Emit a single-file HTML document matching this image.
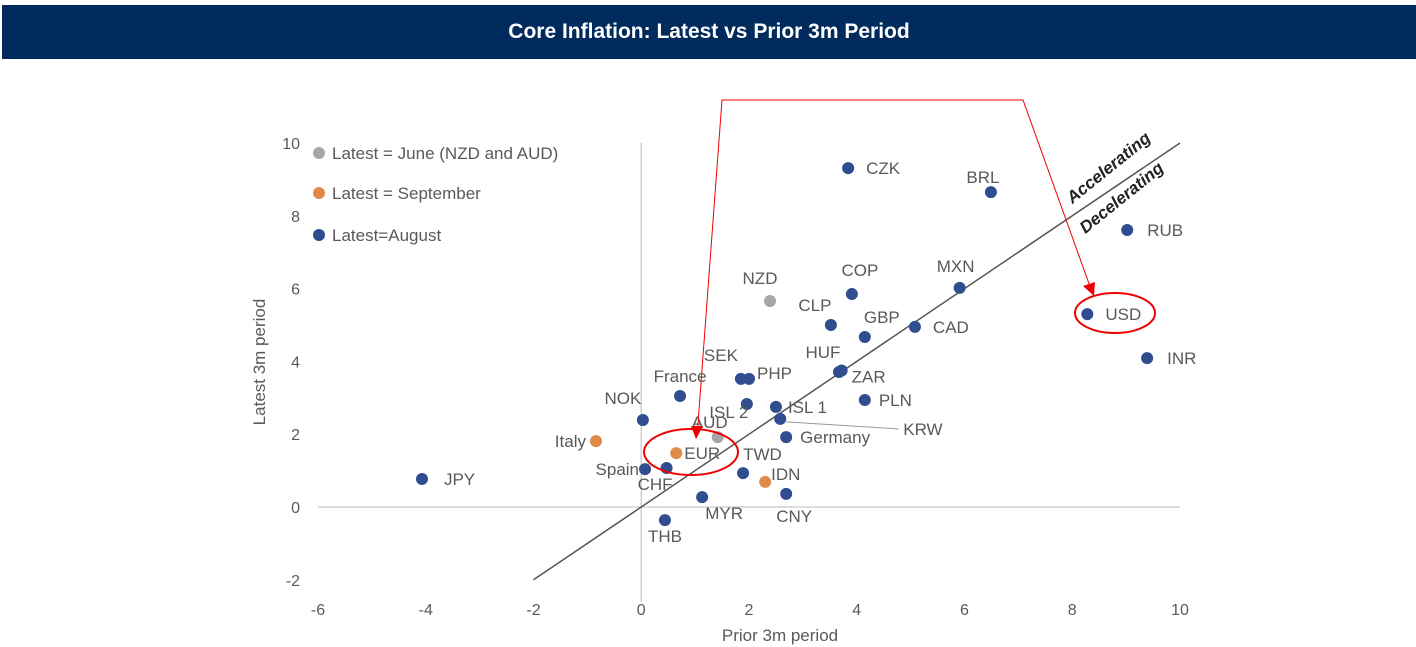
<!DOCTYPE html>
<html><head><meta charset="utf-8"><style>
body{margin:0;background:#fff;width:1416px;height:647px;overflow:hidden;font-family:"Liberation Sans",sans-serif}
#title{position:absolute;left:2px;top:5px;width:1414px;height:54px;background:#002b5c;color:#fff;font-weight:bold;font-size:21px;display:flex;align-items:center;justify-content:center}
svg{position:absolute;left:0;top:0}
text{font-family:"Liberation Sans","DejaVu Sans",sans-serif}
</style></head><body>
<div id="title">Core Inflation: Latest vs Prior 3m Period</div>
<svg id="chart" width="1416" height="647"></svg>
<script>
const names=["JPY","Italy","Spain","CHF","THB","MYR","EUR","AUD","NOK","France","SEK","PHP","ISL 2","ISL 1","KRW","Germany","TWD","IDN","CNY","NZD","CLP","COP","GBP","HUF","ZAR","PLN","CAD","MXN","CZK","BRL","RUB","USD","INR"];
const xVals=[-4.07,-0.84,0.07,0.47,0.44,1.13,0.65,1.42,0.03,0.72,1.85,2.0,1.96,2.5,2.58,2.69,1.89,2.3,2.69,2.39,3.52,3.91,4.15,3.67,3.72,4.15,5.08,5.91,3.84,6.49,9.02,8.28,9.39];
const yVals=[0.77,1.81,1.04,1.07,-0.36,0.27,1.48,1.92,2.39,3.05,3.52,3.52,2.83,2.75,2.42,1.92,0.93,0.69,0.36,5.66,5.0,5.85,4.67,3.71,3.75,2.94,4.95,6.02,9.31,8.65,7.61,5.30,4.09];
const groups=["b","o","b","b","b","b","o","g","b","b","b","b","b","b","b","b","b","o","b","g","b","b","b","b","b","b","b","b","b","b","b","b","b"];
const xTicks=[-6,-4,-2,0,2,4,6,8,10];
const yTicks=[-2,0,2,4,6,8,10];
const labOff={"JPY":[22,6,"start"],"Italy":[-10,6,"end"],"Spain":[-6,6,"end"],"CHF":[6,22,"end"],"THB":[0,22,"middle"],"MYR":[22,22,"middle"],"EUR":[8,6,"start"],"AUD":[-8,-9,"middle"],"NOK":[-20,-16,"middle"],"France":[0,-14,"middle"],"SEK":[-20,-18,"middle"],"PHP":[8,0,"start"],"ISL 2":[-18,14,"middle"],"ISL 1":[12,6,"start"],"KRW":[123,16,"start"],"Germany":[14,6,"start"],"TWD":[0,-13,"start"],"IDN":[6,-2,"start"],"CNY":[8,28,"middle"],"NZD":[-10,-17,"middle"],"CLP":[-16,-14,"middle"],"COP":[8,-18,"middle"],"GBP":[17,-14,"middle"],"HUF":[-16,-14,"middle"],"ZAR":[10,12,"start"],"PLN":[14,6,"start"],"CAD":[18,6,"start"],"MXN":[-4,-16,"middle"],"CZK":[18,6,"start"],"BRL":[-8,-9,"middle"],"RUB":[20,6,"start"],"USD":[18,6,"start"],"INR":[20,6,"start"]};
const col={b:"#2f4d8f",o:"#e08a4a",g:"#a6a6a6"};
const X=v=>641.25+v*53.875, Y=v=>507-v*36.4;
const svg=document.getElementById('chart');const NS="http://www.w3.org/2000/svg";
function mk(t,a,p){const e=document.createElementNS(NS,t);for(const k in a)e.setAttribute(k,a[k]);(p||svg).appendChild(e);return e;}
let e;
e=mk('line',{x1:X(0),y1:Y(10),x2:X(0),y2:Y(-2.6),stroke:"#d0d0d0","stroke-width":1.5});


e=mk('line',{x1:X(-6),y1:Y(0),x2:X(10),y2:Y(0),stroke:"#d0d0d0","stroke-width":1.5});


xTicks.forEach(t=>{e=mk('text',{x:X(t),y:615,"text-anchor":"middle","font-size":16,fill:"#595959"});e.textContent=t;

});
yTicks.forEach(t=>{e=mk('text',{x:300,y:Y(t)+6,"text-anchor":"end","font-size":16,fill:"#595959"});e.textContent=t;

});
e=mk('text',{x:780,y:641,"text-anchor":"middle","font-size":17,fill:"#595959"});e.textContent="Prior 3m period";


e=mk('text',{x:0,y:0,transform:"translate(265,362) rotate(-90)","text-anchor":"middle","font-size":17,fill:"#595959"});e.textContent="Latest 3m period";


e=mk('line',{x1:X(-2),y1:Y(-2),x2:X(10),y2:Y(10),stroke:"#555","stroke-width":1.5});


e=mk('text',{x:0,y:0,transform:"translate(1112,172) rotate(-39)","text-anchor":"middle","font-size":17,"font-weight":"bold","font-style":"italic",fill:"#222"});e.textContent="Accelerating";


e=mk('text',{x:0,y:0,transform:"translate(1125,202) rotate(-39)","text-anchor":"middle","font-size":17,"font-weight":"bold","font-style":"italic",fill:"#222"});e.textContent="Decelerating";


// KRW leader
const ki=names.indexOf("KRW");
e=mk('line',{x1:X(xVals[ki])+6,y1:Y(yVals[ki])+3,x2:X(xVals[ki])+118,y2:Y(yVals[ki])+10,stroke:"#999","stroke-width":1});


names.forEach((n,i)=>{
 e=mk('circle',{cx:X(xVals[i]),cy:Y(yVals[i]),r:6,fill:col[groups[i]]});
 
 
 const o=labOff[n];
 e=mk('text',{x:X(xVals[i])+o[0],y:Y(yVals[i])+o[1],"text-anchor":o[2],"font-size":17,fill:"#595959"});e.textContent=n;
 
 
});
const leg=[["g","Latest = June (NZD and AUD)",153],["o","Latest = September",193],["b","Latest=August",235]];
leg.forEach(l=>{e=mk('circle',{cx:319,cy:l[2],r:6,fill:col[l[0]]});


e=mk('text',{x:332,y:l[2]+6,"font-size":17,fill:"#595959"});e.textContent=l[1];

});
// annotations
e=mk('polyline',{points:"697,437 722,100 1023,100 1092,292",fill:"none",stroke:"#e00",  "stroke-width":1});


e=mk('polygon',{points:"691,426 703,426 696,439",fill:"#e00"});


e=mk('polygon',{points:"1083,286 1095,282 1094,296",fill:"#e00"});


e=mk('ellipse',{cx:691,cy:452,rx:47,ry:23,fill:"none",stroke:"#e00","stroke-width":2});


e=mk('ellipse',{cx:1115,cy:313,rx:40,ry:20,fill:"none",stroke:"#e00","stroke-width":2});


</script>
</body></html>
